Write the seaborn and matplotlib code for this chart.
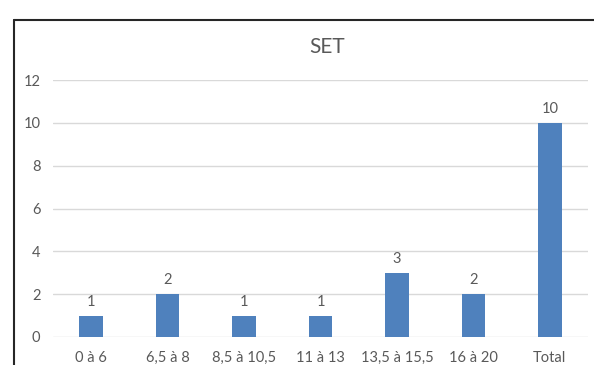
import pandas as pd
import seaborn as sns
import matplotlib.pyplot as plt
from matplotlib.lines import Line2D

categories = ["0 à 6", "6,5 à 8", "8,5 à 10,5", "11 à 13", "13,5 à 15,5", "16 à 20", "Total"]
counts = [1, 2, 1, 1, 3, 2, 10]
yticks = [0, 2, 4, 6, 8, 10, 12]

df = pd.DataFrame({"Classe": categories, "Nombre": counts})

sns.set_style("white")
plt.rcParams["font.family"] = ["Lato", "DejaVu Sans"]
grey = "#595959"

fig = plt.figure(figsize=(5.94, 3.65), dpi=100)
ax = fig.add_axes([53 / 594, 1 - 337 / 365, 535 / 594, 257 / 365])

sns.barplot(data=df, x="Classe", y="Nombre", color="#4F81BD", width=0.31,
            saturation=1, linewidth=0, ax=ax, zorder=3)

ax.bar_label(ax.containers[0], labels=[str(v) for v in counts],
             padding=5, fontsize=10.5, color=grey)

ax.set_ylim(0, 12)
ax.set_yticks(yticks)
ax.set_xlim(-0.5, len(categories) - 0.5)
ax.yaxis.grid(True, color="#D9D9D9", linewidth=1, zorder=0)
ax.set_axisbelow(True)
for s in ax.spines.values():
    s.set_visible(False)
ax.tick_params(axis="both", length=0, labelsize=10.5, colors=grey)
ax.tick_params(axis="y", pad=9)
ax.tick_params(axis="x", pad=10)
ax.set_xlabel("")
ax.set_ylabel("")

fig.text(327 / 594, 1 - 47 / 365, "SET", ha="center", va="center",
         fontsize=15, color=grey)

# chart border (Excel-style frame, cropped on right and bottom)
fig.add_artist(Line2D([14 / 594, 1.0], [1 - 20 / 365, 1 - 20 / 365],
                      color="#262626", linewidth=1.5, transform=fig.transFigure))
fig.add_artist(Line2D([14 / 594, 14 / 594], [0.0, 1 - 20 / 365],
                      color="#262626", linewidth=1.5, transform=fig.transFigure))

fig.savefig("out.png", dpi=100)
